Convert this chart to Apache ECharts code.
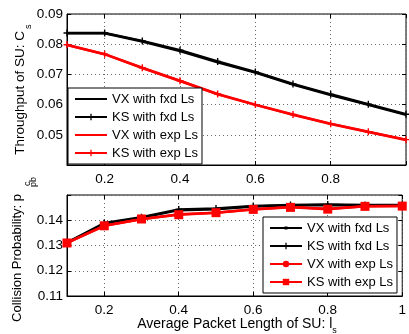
<!DOCTYPE html>
<html>
<head>
<meta charset="utf-8">
<script src="https://cdn.jsdelivr.net/npm/echarts@6/dist/echarts.min.js"></script>
<style>html,body{margin:0;padding:0;background:#fff}#c{width:409px;height:334px}</style>
</head>
<body>
<div id="c"></div>
<script>
var xs = [0.1, 0.2, 0.3, 0.4, 0.5, 0.6, 0.7, 0.8, 0.9, 1.0];
var xTicks = [0.2, 0.4, 0.6, 0.8, 1];
var seriesNames = ['VX with fxd Ls', 'KS with fxd Ls', 'VX with exp Ls', 'KS with exp Ls'];
// Throughput (top)
var thrVXfxd = [0.0836, 0.0836, 0.0809, 0.0777, 0.0740, 0.0706, 0.0666, 0.0632, 0.0599, 0.0566];
var thrKSfxd = [0.0837, 0.0837, 0.0811, 0.0780, 0.0743, 0.0708, 0.0668, 0.0634, 0.0601, 0.0568];
var thrVXexp = [0.0797, 0.0767, 0.0721, 0.0678, 0.0634, 0.0599, 0.0566, 0.0536, 0.0509, 0.0483];
var thrKSexp = [0.0798, 0.0767, 0.0722, 0.0679, 0.0635, 0.0600, 0.0567, 0.0537, 0.0510, 0.0484];
// Collision probability (bottom)
var colVXfxd = [0.1310, 0.1385, 0.1410, 0.1440, 0.1444, 0.1454, 0.1458, 0.1460, 0.1458, 0.1458];
var colKSfxd = [0.1311, 0.1389, 0.1412, 0.1443, 0.1447, 0.1456, 0.1460, 0.1462, 0.1460, 0.1460];
var colVXexp = [0.1310, 0.1378, 0.1404, 0.1424, 0.1430, 0.1444, 0.1452, 0.1446, 0.1455, 0.1456];
var colKSexp = [0.1310, 0.1378, 0.1405, 0.1422, 0.1430, 0.1443, 0.1451, 0.1444, 0.1455, 0.1456];

var FONT = '"Liberation Sans", Arial, Helvetica, sans-serif';
var PLUS = 'path://M4,0h2v4h4v2h-4v4h-2v-4h-4v-2h4z';
var ICON_LINE = 'path://M0,0h0.01v8h-0.01zM0,3h32v2h-32z';
var ICON_LINE_DOT = 'path://M0,0h0.01v8h-0.01zM0,3h32v2h-32zM14.5,2.5h3v3h-3z';
function pairs(v) { return xs.map(function (x, i) { return [x, v[i]]; }); }
var ZW = '\u200b';

function xAxisCfg(gi, showLbl, hideOne) {
  return {
    type: 'value', gridIndex: gi, min: 0.1, max: 1,
    axisLine: { show: true, lineStyle: { color: '#000', width: 1 } },
    axisTick: { show: true, inside: true, length: 4, customValues: xTicks, lineStyle: { color: '#000' } },
    axisLabel: { show: showLbl, customValues: xTicks, margin: 7, color: '#000', fontSize: 13.5, fontFamily: FONT,
      formatter: function (v) { if (hideOne && Math.abs(v - 1) < 1e-9) return ''; return Math.abs(v - 1) < 1e-9 ? '1' : v.toFixed(1); } },
    splitLine: { show: true, lineStyle: { color: '#666', type: [1, 3], width: 1 } }
  };
}
function xAxisTop(gi) {
  return {
    type: 'value', gridIndex: gi, min: 0.1, max: 1, position: 'top',
    axisLine: { show: false },
    axisTick: { show: true, inside: true, length: 4, customValues: xTicks, lineStyle: { color: '#000' } },
    axisLabel: { show: false }, splitLine: { show: false }
  };
}
function yAxisCfg(gi, mn, mx, hideV) {
  return {
    type: 'value', gridIndex: gi, min: mn, max: mx, interval: 0.01,
    axisLine: { show: true, lineStyle: { color: '#000', width: 1 } },
    axisTick: { show: true, inside: true, length: 4, lineStyle: { color: '#000' } },
    axisLabel: { margin: 4, color: '#000', fontSize: 13.5, fontFamily: FONT,
      formatter: function (v) { if (Math.abs(v - hideV) < 1e-9) return ''; return v.toFixed(2); } },
    splitLine: { show: true, lineStyle: { color: '#666', type: [1, 3], width: 1 } }
  };
}
function yAxisRight(gi, mn, mx) {
  return {
    type: 'value', gridIndex: gi, min: mn, max: mx, interval: 0.01, position: 'right',
    axisLine: { show: false },
    axisTick: { show: true, inside: true, length: 4, lineStyle: { color: '#000' } },
    axisLabel: { show: false }, splitLine: { show: false }
  };
}
function ln(name, data, xi, yi, color, width, symbol, size, z) {
  return {
    type: 'line', name: name, data: pairs(data), xAxisIndex: xi, yAxisIndex: yi,
    lineStyle: { color: color, width: width }, itemStyle: { color: color },
    symbol: symbol, symbolSize: size, showSymbol: symbol !== 'none', z: z,
    emphasis: { disabled: true }
  };
}
var legendBase = {
  orient: 'vertical', borderColor: '#000', borderWidth: 1, backgroundColor: '#fff',
  padding: [4, 4, 4, 6], itemWidth: 32, itemHeight: 8, itemGap: 4, borderRadius: 0,
  textStyle: { fontSize: 13, fontFamily: FONT, color: '#000', lineHeight: 14 },
  selectedMode: false, z: 10
};

var chart = echarts.init(document.getElementById('c'), null, { renderer: 'canvas' });
chart.setOption({
  animation: false,
  backgroundColor: '#fff',
  grid: [
    { left: 67, top: 14, width: 341, height: 151, show: true, borderColor: '#000', borderWidth: 1, backgroundColor: 'transparent' },
    { left: 67, top: 195, width: 341, height: 101, show: true, borderColor: '#000', borderWidth: 1, backgroundColor: 'transparent' }
  ],
  xAxis: [xAxisCfg(0, true, true), xAxisCfg(1, true, false), xAxisTop(0), xAxisTop(1)],
  yAxis: [yAxisCfg(0, 0.04, 0.09, 0.04), yAxisCfg(1, 0.11, 0.15, 0.15), yAxisRight(0, 0.04, 0.09), yAxisRight(1, 0.11, 0.15)],
  legend: [
    Object.assign({}, legendBase, { left: 68, top: 88, data: [
      { name: seriesNames[0], icon: ICON_LINE },
      { name: seriesNames[1] },
      { name: seriesNames[2], icon: ICON_LINE },
      { name: seriesNames[3] }
    ] }),
    Object.assign({}, legendBase, { left: 263, top: 217, data: [
      { name: seriesNames[0] + ZW, icon: ICON_LINE_DOT },
      { name: seriesNames[1] + ZW },
      { name: seriesNames[2] + ZW },
      { name: seriesNames[3] + ZW }
    ] })
  ],
  series: [
    ln(seriesNames[0], thrVXfxd, 0, 0, '#000', 2.5, 'none', 0, 2),
    ln(seriesNames[1], thrKSfxd, 0, 0, '#000', 2.5, PLUS, 7, 3),
    ln(seriesNames[2], thrVXexp, 0, 0, '#ff0000', 2.5, 'none', 0, 4),
    ln(seriesNames[3], thrKSexp, 0, 0, '#ff0000', 2.5, PLUS, 7, 5),
    ln(seriesNames[0] + ZW, colVXfxd, 1, 1, '#000', 2.5, 'circle', 3, 2),
    ln(seriesNames[1] + ZW, colKSfxd, 1, 1, '#000', 2.5, PLUS, 7, 3),
    ln(seriesNames[2] + ZW, colVXexp, 1, 1, '#ff0000', 2.5, 'circle', 6, 4),
    ln(seriesNames[3] + ZW, colKSexp, 1, 1, '#ff0000', 2.5, 'rect', 9, 5)
  ],
  graphic: [
    { type: 'text', x: 20, y: 31, rotation: Math.PI / 2, silent: true,
      style: { text: 'Throughput of SU: C', fill: '#000', fontSize: 13.5, fontFamily: FONT, align: 'right', verticalAlign: 'middle' } },
    { type: 'text', x: 28.5, y: 29, rotation: Math.PI / 2, silent: true,
      style: { text: 's', fill: '#000', fontSize: 9, fontFamily: FONT, align: 'left', verticalAlign: 'middle' } },
    { type: 'text', x: 17, y: 194, rotation: Math.PI / 2, silent: true,
      style: { text: 'Collision Probability: p', fill: '#000', fontSize: 13, fontFamily: FONT, align: 'right', verticalAlign: 'middle' } },
    { type: 'text', x: 28, y: 186, rotation: Math.PI / 2, silent: true,
      style: { text: 'c', fill: '#000', fontSize: 9, fontFamily: FONT, align: 'left', verticalAlign: 'middle' } },
    { type: 'text', x: 34, y: 187, rotation: Math.PI / 2, silent: true,
      style: { text: 'pb', fill: '#000', fontSize: 9, fontFamily: FONT, align: 'left', verticalAlign: 'middle' } },
    { type: 'text', x: 237, y: 324, silent: true,
      style: { text: '{a|Average Packet Length of SU: l}{s|s}', fill: '#000', fontFamily: FONT, align: 'center', verticalAlign: 'middle',
        rich: { a: { fontSize: 14, fontFamily: FONT, lineHeight: 22, fill: '#000' },
                s: { fontSize: 9, fontFamily: FONT, lineHeight: 9, verticalAlign: 'bottom', fill: '#000' } } } }
  ]
});
</script>
</body>
</html>
